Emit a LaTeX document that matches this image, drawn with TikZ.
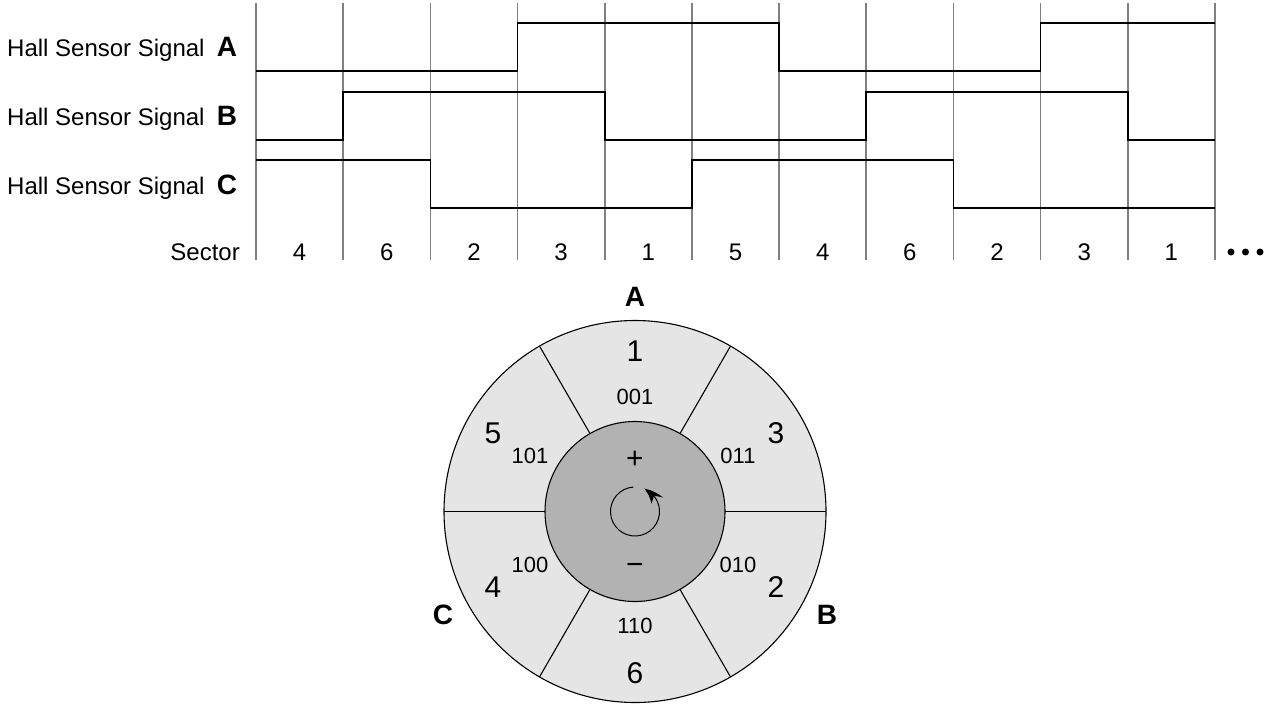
\documentclass[tikz,border=0pt]{standalone}
\usepackage{fontspec}
\setmainfont{Liberation Sans}
\usetikzlibrary{arrows.meta,bending}
\definecolor{ringgray}{gray}{0.9}
\definecolor{hubgray}{gray}{0.7}
\definecolor{gridgray}{gray}{0.5}
% x position of the k-th sector boundary
\newcommand\colx[1]{256+87.18*#1}
\begin{document}
\begin{tikzpicture}[x=1pt,y=1pt,
  lbl/.style={font=\fontsize{24}{28}\selectfont, inner sep=0pt},
  letter/.style={font=\fontsize{28}{31}\selectfont\bfseries, inner sep=0pt},
  big/.style={font=\fontsize{30}{34}\selectfont, inner sep=0pt},
  code/.style={font=\fontsize{22}{25}\selectfont, inner sep=0pt},
  gridline/.style={gridgray, line width=1.6pt},
  signal/.style={black, line width=1.7pt, line join=miter},
  edge/.style={black, line width=1.1pt}]
\useasboundingbox (0,0) rectangle (1269,-704);

% sector boundaries
\foreach \k in {0,...,11}
  \draw[gridline] ({\colx{\k}},-3) -- ({\colx{\k}},-260);

% Hall signals A, B, C
\draw[signal] ({\colx{0}},-71) -- ({\colx{3}},-71) -- ({\colx{3}},-23) -- ({\colx{6}},-23)
  -- ({\colx{6}},-71) -- ({\colx{9}},-71) -- ({\colx{9}},-23) -- ({\colx{11}},-23);
\draw[signal] ({\colx{0}},-140) -- ({\colx{1}},-140) -- ({\colx{1}},-91.7) -- ({\colx{4}},-91.7)
  -- ({\colx{4}},-140) -- ({\colx{7}},-140) -- ({\colx{7}},-91.7) -- ({\colx{10}},-91.7)
  -- ({\colx{10}},-140) -- ({\colx{11}},-140);
\draw[signal] ({\colx{0}},-160) -- ({\colx{2}},-160) -- ({\colx{2}},-207.7) -- ({\colx{5}},-207.7)
  -- ({\colx{5}},-160) -- ({\colx{8}},-160) -- ({\colx{8}},-207.7) -- ({\colx{11}},-207.7);

% row labels
\node[lbl, anchor=base west] (labA) at (7,-56) {Hall Sensor Signal};
\node[letter, anchor=base] (sigA) at (227,-56) {A};
\node[lbl, anchor=base west] (labB) at (7,-125) {Hall Sensor Signal};
\node[letter, anchor=base] (sigB) at (227,-125) {B};
\node[lbl, anchor=base west] (labC) at (7,-194) {Hall Sensor Signal};
\node[letter, anchor=base] (sigC) at (227,-194) {C};

% sector numbers
\node[lbl, anchor=base east] (sectorlbl) at (240,-260) {Sector};
\foreach \s [count=\i from 0] in {4,6,2,3,1,5,4,6,2,3,1}
  \node[lbl, anchor=base] (sec\i) at ({\colx{\i}+43.59},-260) {\s};
\foreach \dx in {1231,1245.5,1260}
  \fill ({\dx},-252) circle (3.5);

% rotor diagram
\begin{scope}[shift={(635,-511.5)}]
  \draw[edge, fill=ringgray] (0,0) circle (191);
  \foreach \a in {0,60,...,300}
    \draw[edge] (\a:90) -- (\a:191);
  \draw[edge, fill=hubgray] (0,0) circle (90);
  \draw[line width=1pt, -{Stealth[length=18pt,width=13pt,bend]}]
    (94:24.5) arc[start angle=94, end angle=428, radius=24.5];
\end{scope}

\node[letter] (phA) at (635,-297) {A};
\node[letter] (phB) at (827,-615) {B};
\node[letter] (phC) at (443,-615) {C};

\node[big] (n1) at (635,-351) {1};
\node[code] (c1) at (635,-397) {001};
\node[big] (n5) at (493,-433) {5};
\node[code] (c5) at (530,-456) {101};
\node[big] (n3) at (776,-433) {3};
\node[code] (c3) at (738,-456) {011};
\node[big] (n4) at (493,-587) {4};
\node[code] (c4) at (530,-565) {100};
\node[big] (n2) at (776,-587) {2};
\node[code] (c2) at (738,-565) {010};
\node[big] (n6) at (635,-673) {6};
\node[code] (c6) at (635,-626) {110};
\node[big] (plus) at (635,-460) {+};
\node[big] (minus) at (635,-569) {−};
\end{tikzpicture}
\end{document}
